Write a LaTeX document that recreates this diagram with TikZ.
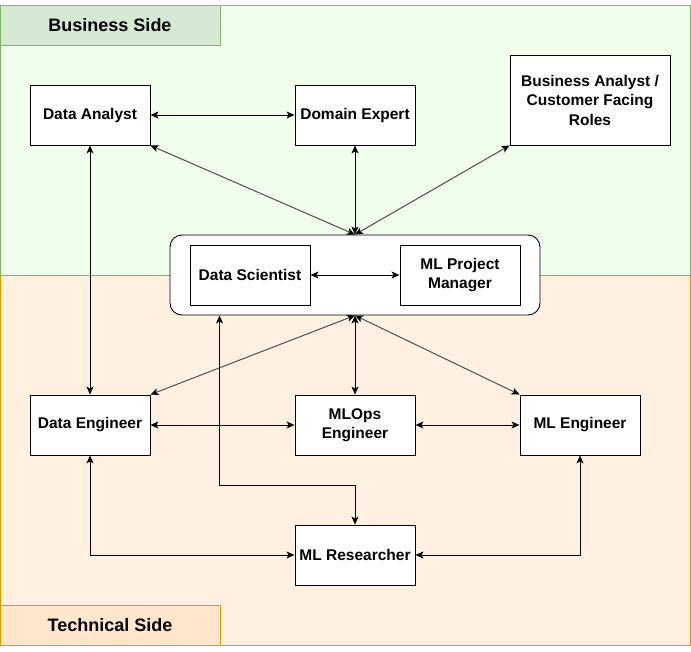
\documentclass[tikz,border=0pt]{standalone}
\usepackage{fontspec}
\setmainfont{Liberation Sans}
\usepackage{tikz}
\usetikzlibrary{arrows.meta}
\definecolor{bizfill}{HTML}{EFFFEC}
\definecolor{bizline}{HTML}{82B366}
\definecolor{bizhead}{HTML}{D5E8D4}
\definecolor{techfill}{HTML}{FFF0E2}
\definecolor{techline}{HTML}{D79B00}
\definecolor{techhead}{HTML}{FFE6CC}
\definecolor{diagline}{HTML}{4D4D4D}

\begin{document}
\begin{tikzpicture}[x=1pt,y=-1pt,
  role/.style={draw,fill=white,line width=0.9pt,minimum width=120pt,minimum height=60pt,
    align=center,inner sep=2pt,font=\fontsize{15.5}{19.5}\selectfont\bfseries},
  side/.style={line width=0.9pt,minimum width=220pt,minimum height=40pt,
    font=\fontsize{18}{21}\selectfont\bfseries},
  link/.style={{Stealth[length=8pt,width=7pt,inset=2pt,color=black]}-{Stealth[length=8pt,width=7pt,inset=2pt,color=black]},line width=0.9pt},
  slant/.style={link,draw=diagline,line width=1pt}]
\useasboundingbox (0,0) rectangle (691,651);
\draw[bizline,fill=bizfill,line width=0.9pt] (0,5) rectangle (690,275);
\draw[techline,fill=techfill,line width=0.9pt] (0,275) rectangle (690,645);
\node[side,draw=bizline,fill=bizhead] (bizlabel) at (110,25) {Business Side};
\node[side,draw=techline,fill=techhead] (techlabel) at (110,625) {Technical Side};

\node[draw,fill=white,line width=0.9pt,rounded corners=12pt,minimum width=370pt,minimum height=80pt] (team) at (355,275) {};
\node[role] (da) at (90,115) {Data Analyst};
\node[role] (dx) at (355,115) {Domain Expert};
\node[role,minimum width=160pt,minimum height=90pt] (ba) at (590,100) {Business Analyst /\\Customer Facing\\Roles};
\node[role] (ds) at (250,275) {Data Scientist};
\node[role] (pm) at (460,275) {ML Project\\Manager};
\node[role] (de) at (90,425) {Data Engineer};
\node[role] (mlops) at (355,425) {MLOps\\Engineer};
\node[role] (mle) at (580,425) {ML Engineer};
\node[role] (mlr) at (355,555) {ML Researcher};

\draw[link] (da.east) -- (dx.west);
\draw[link] (da.south) -- (de.north);
\draw[link] (dx.south) -- (team.north);
\draw[slant] (da.south east) -- (team.north);
\draw[slant] (ba.south west) -- (team.north);
\draw[link] (ds.east) -- (pm.west);
\draw[link] (team.south) -- (mlops.north);
\draw[slant] (team.south) -- (de.north east);
\draw[slant] (team.south) -- (mle.north west);
\draw[link] (de.east) -- (mlops.west);
\draw[link] (mlops.east) -- (mle.west);
\draw[link] (de.south) |- (mlr.west);
\draw[link] (mle.south) |- (mlr.east);
\draw[link] ([xshift=50pt]team.south west) -- ++(0,170) -| (mlr.north);
\end{tikzpicture}
\end{document}
